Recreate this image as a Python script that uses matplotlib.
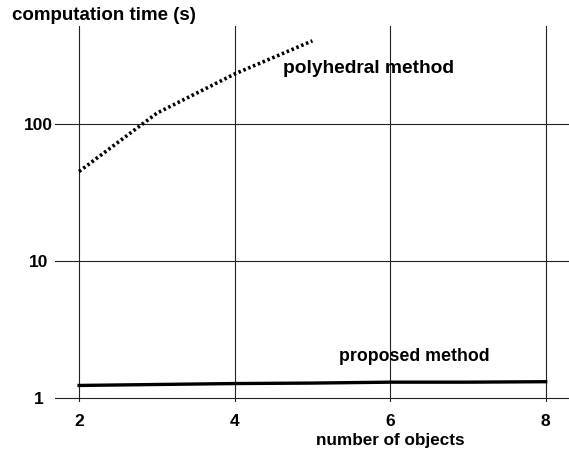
import matplotlib.pyplot as plt
from matplotlib.ticker import FixedLocator, NullLocator

# datos
poly_x = [2, 3, 4, 5]
poly_t = [45, 120, 232, 405]
prop_x = [2, 3, 4, 5, 6, 7, 8]
prop_t = [1.23, 1.25, 1.27, 1.28, 1.30, 1.30, 1.31]
xticks = [2, 4, 6, 8]
yticks = [1, 10, 100]
ytick_labels = ["1", "10", "100"]

plt.rcParams['font.family'] = ['Liberation Sans', 'DejaVu Sans']
plt.rcParams['font.weight'] = 'bold'

fig = plt.figure(figsize=(5.69, 4.53), dpi=100)
ax = fig.add_axes([55 / 569, 51 / 453, 514 / 569, 376 / 453])

ax.plot(poly_x, poly_t, color='black', linestyle=(0, (0.7, 0.75)), linewidth=2.6)
ax.plot(prop_x, prop_t, color='black', linestyle='-', linewidth=2.4)

ax.set_yscale('log')
ax.set_xlim(1.69, 8.30)
ax.set_ylim(10 ** -0.031, 10 ** 2.716)

ax.xaxis.set_major_locator(FixedLocator(xticks))
ax.yaxis.set_major_locator(FixedLocator(yticks))
ax.yaxis.set_minor_locator(NullLocator())
ax.set_yticklabels(ytick_labels)
ax.tick_params(axis='both', length=0, labelsize=12.5)
ax.tick_params(axis='x', pad=9)
ax.tick_params(axis='y', pad=12)
for lab in ax.get_xticklabels():
    lab.set_fontweight('bold')
for lab in ax.get_yticklabels():
    lab.set_fontweight('bold')
    lab.set_horizontalalignment('center')

ax.grid(True, color='#222222', linewidth=0.8)
for s in ax.spines.values():
    s.set_visible(False)

ax.text(4.62, 255, "polyhedral method", fontsize=13.8, fontweight='bold', va='center')
ax.text(5.34, 2.0, "proposed method", fontsize=12.8, fontweight='bold', va='center')

fig.text(12 / 569, 1 - 15 / 453, "computation time (s)", fontsize=13.5,
         fontweight='bold', va='center', ha='left')
fig.text(390 / 569, 1 - 441 / 453, "number of objects", fontsize=12.3,
         fontweight='bold', va='center', ha='center')

plt.savefig("out.png", dpi=100)
